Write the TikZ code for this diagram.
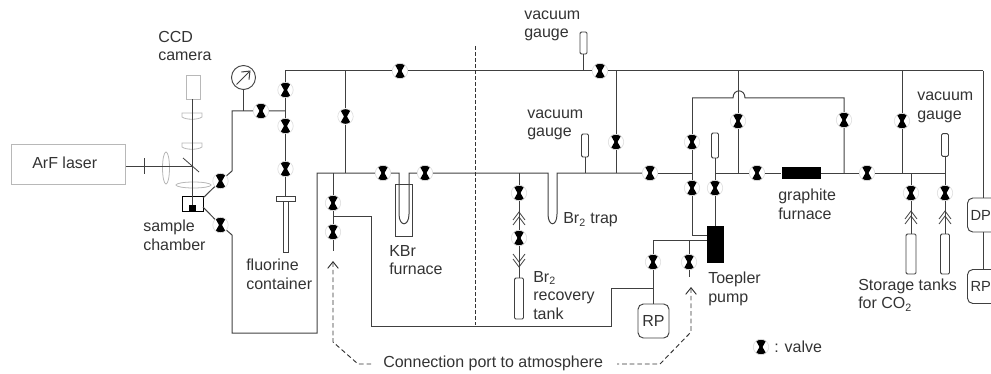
\documentclass[tikz,border=0pt]{standalone}
\usepackage{fontspec}
\setmainfont{Liberation Sans}
\usetikzlibrary{arrows.meta}

\definecolor{pipecol}{gray}{0.25}
\definecolor{lenscol}{gray}{0.72}
\definecolor{textcol}{gray}{0.2}

\tikzset{
  pipe/.style={draw=pipecol,line width=0.75pt},
  tube/.style={draw=pipecol,line width=0.7pt,rounded corners=1pt,fill=white,inner sep=0pt},
  lens/.style={draw=lenscol,line width=0.6pt,fill=white},
  portline/.style={draw=pipecol!80!black,line width=0.7pt,dash pattern=on 3.5pt off 2.2pt},
  label/.style={text=textcol,font=\fontsize{12pt}{14pt}\selectfont,align=left,anchor=west,inner sep=0pt},
  pumpbox/.style={draw=pipecol,line width=0.7pt,rounded corners=4pt,fill=white,inner sep=0pt,text=textcol,font=\fontsize{12pt}{14pt}\selectfont},
  sidebox/.style={pumpbox,anchor=west,minimum height=25.5pt,text width=40pt,align=left,inner xsep=2.3pt,font=\fontsize{11pt}{14pt}\selectfont},
  blockbox/.style={fill=black,inner sep=0pt},
  valve/.style={circle,minimum size=11.6pt,inner sep=0pt,fill=white,draw=black!12,line width=0.5pt,
    path picture={
      \fill[black] (path picture bounding box.center) ++(-4.2pt,5.5pt) -- ++(8.4pt,0) -- ++(-3.4pt,-6.1pt) -- ++(-1.6pt,0) -- cycle;
      \fill[black] (path picture bounding box.center) ++(-4.2pt,-5.5pt) -- ++(8.4pt,0) -- ++(-3.4pt,6.1pt) -- ++(-1.6pt,0) -- cycle;
    }},
  joint/.pic={
    \draw[pipe,line width=0.6pt] (-6,8) -- (0,0) -- (6,8);
    \draw[pipe,line width=0.6pt] (-6,13) -- (0,5) -- (6,13);
  }
}

\begin{document}
\begin{tikzpicture}[x=0.75pt,y=-0.75pt,>={Straight Barb[length=5pt,width=8pt]}]
    \useasboundingbox (0,0) rectangle (991,374);
    \clip (0,0) rectangle (991,374);
    % valves
    \foreach \n/\x/\y in {vA/220.5/181,vB/220.5/225,vC/261/111,vD/285.5/90,vE/285.5/126,vF/285.5/169,
      vG/333/203,vH/333/232,vI/345.5/116.5,vJ/400/71,vK/383/173,vL/425/173,vM/519/193,vN/519/238,
      vO/600/71,vP/616/142,vQ/650/173,vR/653/262,vS/689/262,vT/692/142,vU/692/188,vV/715/188,
      vW/738/121,vX/757/173,vY/844/120,vZ/867/173,vAA/902/121,vAB/911/193,vAC/945/193,vKey/761/347}
      \node[valve] (\n) at (\x,\y) {};
    % junctions
    \foreach \n/\x/\y in {jTop/285.5/71,jMid/285.5/111,jBendA/232/171,jBendB/232/235,
      jCornerA/232/333,jCornerB/317/333,jCornerC/317/173,jPort/333/173,jSplit/333/216.5,jStub/333/251,
      jBack/371/216.5,jBackB/371/326.5,jBackC/611/326.5,jBackD/611/288,jRP/653/288,jRPtop/653/240,
      jSt/689/240,jSe/689/277,jI/345.5/71,jIb/345.5/173,jGa/583.5/71,jP/616/71,jPb/616/173,jGb/585/173,
      jBr/519/173,jTrapL/548/173,jTrapR/557/173,jTrapLb/548/214,jTrapRb/557/214,
      jFurnL/399/173,jFurnR/409/173,jFurnLb/399/214,jFurnRb/409/214,
      jLoopA/692/173,jLoopB/692/98,jHumpL/733/98,jHumpR/745/98,jLoopC/844/98,jLoopD/844/173,
      jPumpIn/692/235,jGc/715/173,jW/738/71,jWb/738/173,jAA/902/71,jAAb/902/173,jAB/911/173,
      jAC/945/173,jEnd/983/71,jPortA/333/261,jPortB/333/342,jPortC/358/364,jPortD/372/364,
      jPortE/617/364,jPortF/660/364,jPortG/691/332,jPortH/691/287,jBeam/192/166,jBeamEnd/192/205,
      jChU/203/198,jChL/203/207,jDivT/475.5/46,jDivB/475.5/325,
      jTickT/144/158,jTickB/144/174,jMirrorT/183/158,jMirrorB/199/172,jNeedleA/236.5/84.5,jNeedleB/250.5/70.5}
      \coordinate (\n) at (\x,\y);
    % apparatus
    \node[draw=lenscol,line width=0.7pt,minimum width=85.5pt,minimum height=30.5pt,inner sep=0pt] (laser) at (68.5,164.5) {};
    \node[draw=lenscol,line width=0.7pt,minimum width=10.5pt,minimum height=18pt,inner sep=0pt] (ccd) at (193,87) {};
    \draw[lens] (166,168) ellipse (3.5 and 16);
    \foreach \y in {113,143}
      \draw[lens] (182,\y) -- (202,\y) -- (202,\y+4) .. controls (198,\y+7) and (186,\y+7) .. (182,\y+4) -- cycle;
    \draw[lens] (193.5,185) ellipse (17.5 and 3);
    \node[draw=black,line width=0.7pt,minimum width=15.75pt,minimum height=11.25pt,inner sep=0pt] (chamber) at (192.5,203.5) {};
    \node[blockbox,minimum width=5.25pt,minimum height=4.5pt] (sample) at (192.5,208) {};
    \node[circle,draw=pipecol,line width=0.7pt,minimum size=18pt,inner sep=0pt] (meter) at (243.5,77.5) {};
    \node[draw=pipecol,fill=white,line width=0.7pt,minimum width=14.25pt,minimum height=3.75pt,inner sep=0pt] (cap) at (285.5,198.5) {};
    \node[draw=pipecol,fill=white,line width=0.7pt,minimum width=3.75pt,minimum height=38.25pt,inner sep=0pt] (bottle) at (285.5,226.5) {};
    \node[draw=pipecol,line width=0.7pt,minimum width=12.75pt,minimum height=39pt,inner sep=0pt] (kbr) at (403.5,210) {};
    \node[tube,minimum width=5.25pt,minimum height=16.5pt] (gaugeA) at (583.5,43) {};
    \node[tube,minimum width=5.25pt,minimum height=17.25pt] (gaugeB) at (585,145.5) {};
    \node[tube,minimum width=5.25pt,minimum height=18.75pt] (gaugeC) at (715,145.5) {};
    \node[tube,minimum width=5.25pt,minimum height=17pt] (gaugeD) at (945,145) {};
    \node[tube,minimum width=6.75pt,minimum height=30.75pt] (tankA) at (519,298.5) {};
    \node[tube,minimum width=7.5pt,minimum height=30pt] (tankB) at (911,254) {};
    \node[tube,minimum width=6.75pt,minimum height=30pt] (tankC) at (945,254) {};
    \node[blockbox,minimum width=12.75pt,minimum height=27.75pt] (toepler) at (715.5,244.5) {};
    \node[blockbox,minimum width=29.5pt,minimum height=9pt] (graphite) at (801.3,173) {};
    \node[pumpbox,minimum width=23.25pt,minimum height=25.5pt] (rpA) at (653.5,321) {RP};
    \node[sidebox] (dp) at (967,215) {DP};
    \node[sidebox] (rpB) at (967,286.5) {RP};
    % beam and optics
    \draw[pipe] (laser.east |- jBeam) -- (jBeam);
    \draw[pipe] (jBeam |- ccd.south) -- (jBeamEnd);
    \draw[pipe] (jTickT) -- (jTickB);
    \draw[pipe,line width=0.6pt] (jMirrorT) -- (jMirrorB);
    \draw[pipe,->] (jNeedleA) -- (jNeedleB);
    % lines at the sample chamber
    \draw[pipe] (jChU) -- (vA) (vA) -- (jBendA) -- (jBendA |- jMid) -- (vC) (vC) -- (jMid);
    \draw[pipe] (meter.south) -- (meter.south |- jMid);
    \draw[pipe] (jChL) -- (vB) (vB) -- (jBendB) -- (jCornerA) -- (jCornerB) -- (jCornerC) -- (vK);
    % fluorine line
    \draw[pipe] (jEnd) -- (vO) (vO) -- (vJ) (vJ) -- (jTop) -- (vD) (vD) -- (vE) (vE) -- (vF) (vF) -- (cap.north);
    \draw[pipe] (jI) -- (vI) (vI) -- (jIb);
    % KBr furnace and Br2 trap
    \draw[pipe] (vK) -- (jFurnL) -- (jFurnLb) .. controls +(0,13) and +(0,13) .. (jFurnRb) -- (jFurnR) -- (vL);
    \draw[pipe] (vL) -- (jTrapL) -- (jTrapLb) .. controls +(0,13) and +(0,13) .. (jTrapRb) -- (jTrapR) -- (vQ);
    \draw[pipe] (vQ) -- (jLoopA);
    \draw[pipe] (jPort) -- (vG) (vG) -- (vH) (vH) -- (jStub);
    \draw[pipe] (jSplit) -- (jBack) -- (jBackB) -- (jBackC) -- (jBackD) -- (jRP);
    \draw[pipe] (jBr) -- (vM) (vM) -- (vN) (vN) -- (tankA.north);
    \pic at (519,212) {joint};
    \pic[rotate=180] at (519,267) {joint};
    % gauges
    \draw[pipe] (gaugeA.south) -- (jGa);
    \draw[pipe] (gaugeB.south) -- (jGb);
    \draw[pipe] (jP) -- (vP) (vP) -- (jPb);
    % rotary pump and Toepler pump
    \draw[pipe] (jRPtop) -- (vR) (vR) -- (rpA.north -| vR);
    \draw[pipe] (jRPtop) -- (toepler.west |- jRPtop);
    \draw[pipe] (jSt) -- (vS) (vS) -- (jSe);
    \draw[pipe] (jLoopB) -- (vT) (vT) -- (vU) (vU) -- (jPumpIn) -- (toepler.west |- jPumpIn);
    \draw[pipe] (gaugeC.south) -- (vV) (vV) -- (vV |- toepler.north);
    \draw[pipe] (jLoopB) -- (jHumpL) .. controls +(0,-9.5) and +(0,-9.5) .. (jHumpR) -- (jLoopC) -- (vY) (vY) -- (jLoopD);
    \draw[pipe] (jW) -- (vW) (vW) -- (jWb);
    % graphite furnace and storage
    \draw[pipe] (jGc) -- (vX) (vX) -- (graphite.west);
    \draw[pipe] (graphite.east) -- (vZ) (vZ) -- (jAC);
    \draw[pipe] (jAA) -- (vAA) (vAA) -- (jAAb);
    \draw[pipe] (jAB) -- (vAB) (vAB) -- (tankB.north);
    \draw[pipe] (gaugeD.south) -- (vAC) (vAC) -- (tankC.north);
    \foreach \x in {911,945}
      \pic at (\x,211) {joint};
    % diffusion pump
    \draw[pipe] (jEnd) -- (jEnd |- dp.north);
    \draw[pipe] (jEnd |- dp.south) -- (jEnd |- rpB.north);
    % divider and ports
    \draw[portline,dash pattern=on 3pt off 1.5pt] (jDivT) -- (jDivB);
    \draw[portline,<-] (jPortA) -- (jPortB) -- (jPortC) -- (jPortD);
    \draw[portline,<-] (jPortH) -- (jPortG) -- (jPortF) -- (jPortE);
    % labels
    \node[label] (lbLaser) at (32,163) {ArF laser};
    \node[label] (lbCCD) at (158,46) {CCD\\camera};
    \node[label] (lbChamber) at (143,235) {sample\\chamber};
    \node[label] (lbFluorine) at (246,274) {fluorine\\container};
    \node[label] (lbKBr) at (389,260) {KBr\\furnace};
    \node[label] (lbGaugeA) at (524,26) {vacuum\\gauge};
    \node[label] (lbGaugeB) at (527,125) {vacuum\\gauge};
    \node[label] (lbTrap) at (563,220) {Br\textsubscript{2} trap};
    \node[label] (lbTank) at (533,295.5) {Br\textsubscript{2}\\recovery\\tank};
    \node[label] (lbPort) at (383,363) {Connection port to atmosphere};
    \node[label] (lbToepler) at (708,289) {Toepler\\pump};
    \node[label] (lbGraphite) at (778,204) {graphite\\furnace};
    \node[label] (lbStorage) at (858,295) {Storage tanks\\for CO\textsubscript{2}};
    \node[label] (lbGaugeC) at (917,107.5) {vacuum\\gauge};
    \node[label] (lbKey) at (774,347) {: valve};
\end{tikzpicture}
\end{document}
